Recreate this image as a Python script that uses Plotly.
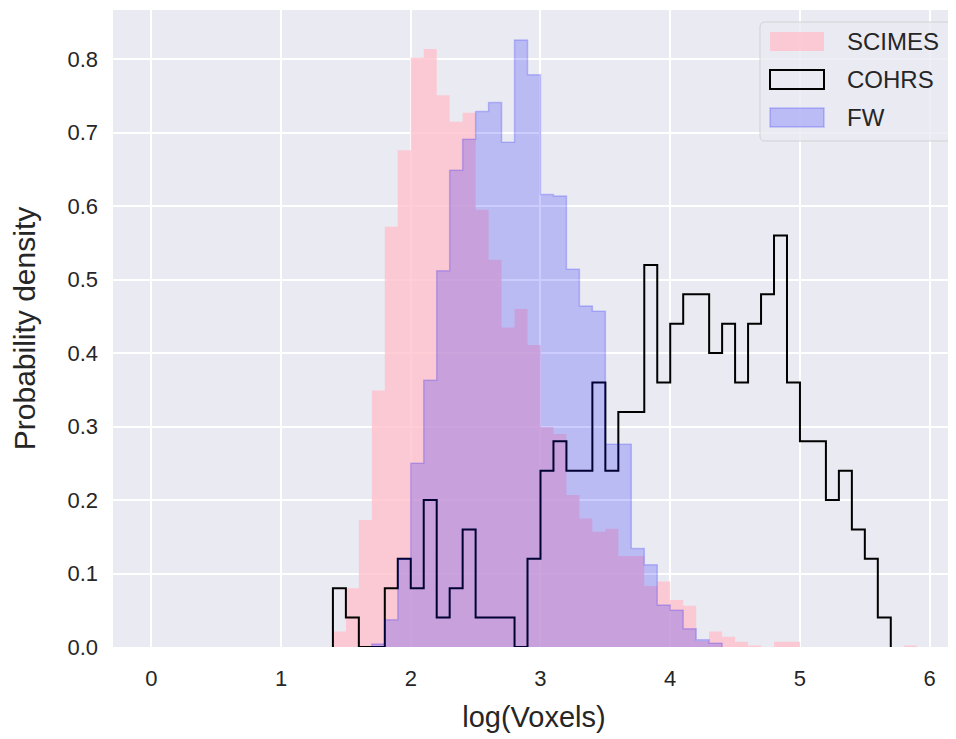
import plotly.graph_objects as go

# ---- data (density per 0.1-wide bin in log(Voxels)) ----
bin_width = 0.1

scimes_start = 1.4
scimes = [0.021, 0.080, 0.173, 0.349, 0.572, 0.676, 0.802, 0.814, 0.751, 0.715,
          0.727, 0.595, 0.527, 0.435, 0.460, 0.411, 0.299, 0.290, 0.207, 0.175,
          0.157, 0.161, 0.124, 0.124, 0.083, 0.089, 0.064, 0.056, 0.008, 0.021,
          0.014, 0.007, 0.002, 0.000, 0.007, 0.007, 0.000, 0.000, 0.000, 0.000,
          0.000, 0.000, 0.000, 0.000, 0.002]

cohrs_start = 1.4
cohrs = [0.08, 0.04, 0.00, 0.00, 0.08, 0.12, 0.08, 0.20, 0.04, 0.08,
         0.16, 0.04, 0.04, 0.04, 0.00, 0.12, 0.24, 0.28, 0.24, 0.24,
         0.36, 0.24, 0.32, 0.32, 0.52, 0.36, 0.44, 0.48, 0.48, 0.40,
         0.44, 0.36, 0.44, 0.48, 0.56, 0.36, 0.28, 0.28, 0.20, 0.24,
         0.16, 0.12, 0.04]

fw_start = 1.7
fw = [0.004, 0.037, 0.120, 0.250, 0.363, 0.512, 0.649, 0.691, 0.729, 0.741,
      0.687, 0.826, 0.779, 0.616, 0.614, 0.514, 0.464, 0.457, 0.276, 0.276,
      0.134, 0.112, 0.057, 0.050, 0.025, 0.010, 0.005]

x_ticks = [0, 1, 2, 3, 4, 5, 6]
y_ticks = [0.0, 0.1, 0.2, 0.3, 0.4, 0.5, 0.6, 0.7, 0.8]
series_names = ["SCIMES", "COHRS", "FW"]


def step_xy(values, start, width):
    edges = [round(start + i * width, 4) for i in range(len(values) + 1)]
    xs = [edges[0]] + edges[:-1] + [edges[-1]]
    ys = [0] + list(values) + [0]
    return xs, ys


TXT = "#262626"
FONT = "Liberation Sans, Arial, sans-serif"

# page body has an 8px margin: figure is placed at (8, 8)
OFF = 8
FIG_W, FIG_H = 956 - OFF, 739 - OFF
# plot area in window pixels
L, R, T, B = 113, 955, 10, 647
W, H = R - L, B - T

fig = go.Figure()

xs, ys = step_xy(scimes, scimes_start, bin_width)
fig.add_trace(go.Scatter(x=xs, y=ys, mode="lines", line_shape="hv",
                         line=dict(width=0, color="rgba(255,192,203,0)"),
                         fill="tozeroy", fillcolor="rgba(255,192,203,0.8)",
                         name=series_names[0], showlegend=False, hoverinfo="skip"))

xs, ys = step_xy(cohrs, cohrs_start, bin_width)
fig.add_trace(go.Scatter(x=xs, y=ys, mode="lines", line_shape="hv",
                         line=dict(width=2, color="black"),
                         name=series_names[1], showlegend=False, hoverinfo="skip"))

xs, ys = step_xy(fw, fw_start, bin_width)
fig.add_trace(go.Scatter(x=xs, y=ys, mode="lines", line_shape="hv",
                         line=dict(width=1.5, color="rgba(0,0,255,0.2)"),
                         fill="tozeroy", fillcolor="rgba(0,0,255,0.2)",
                         name=series_names[2], showlegend=False, hoverinfo="skip"))


# ---- legend drawn as box + patches + text (paper coords) ----
def px(xp):
    return (xp - L) / W


def py(yp):
    return (B - yp) / H


def rounded_box(x0, y0, x1, y1, r):
    rx, ry = r / W, r / H
    a0, a1, b0, b1 = px(x0), px(x1), py(y1), py(y0)
    return (f"M{a0+rx},{b0} L{a1-rx},{b0} Q{a1},{b0} {a1},{b0+ry} "
            f"L{a1},{b1-ry} Q{a1},{b1} {a1-rx},{b1} L{a0+rx},{b1} "
            f"Q{a0},{b1} {a0},{b1-ry} L{a0},{b0+ry} Q{a0},{b0} {a0+rx},{b0} Z")


fig.add_shape(type="path", xref="paper", yref="paper",
              path=rounded_box(760, 22, 953, 141, 5),
              fillcolor="rgba(234,234,242,0.8)", line=dict(color="rgba(204,204,204,0.8)", width=1))

patch_styles = [
    dict(fillcolor="rgba(255,192,203,0.8)", line=dict(width=0)),
    dict(fillcolor="rgba(0,0,0,0)", line=dict(color="black", width=2)),
    dict(fillcolor="rgba(0,0,255,0.2)", line=dict(color="rgba(0,0,255,0.2)", width=1.5)),
]
row_centers = [41.5, 79.5, 117.5]
for name, st, yc in zip(series_names, patch_styles, row_centers):
    fig.add_shape(type="rect", xref="paper", yref="paper",
                  x0=px(770), x1=px(824), y0=py(yc + 9.5), y1=py(yc - 9.5), **st)
    fig.add_annotation(x=px(845), y=py(yc), xref="paper", yref="paper",
                       text=name, showarrow=False, xanchor="left", yanchor="middle",
                       font=dict(size=24, color=TXT, family=FONT))

fig.update_layout(
    width=FIG_W, height=FIG_H,
    margin=dict(l=L - OFF, r=956 - R, t=T - OFF, b=739 - B),
    paper_bgcolor="white", plot_bgcolor="#EAEAF2",
    font=dict(family=FONT, color=TXT, size=22),
    showlegend=False,
)
fig.update_xaxes(range=[-0.295, 6.195], tickvals=x_ticks, ticktext=[str(v) for v in x_ticks],
                 showgrid=True, gridcolor="white", gridwidth=1.5, zeroline=False,
                 showline=False, ticks="", ticklabelstandoff=16,
                 tickfont=dict(size=22, color=TXT),
                 title=dict(text="log(Voxels)", font=dict(size=29, color=TXT), standoff=16))
fig.update_yaxes(range=[0, 0.867], tickvals=y_ticks, ticktext=[f"{v:.1f}" for v in y_ticks],
                 showgrid=True, gridcolor="white", gridwidth=1.5, zeroline=False,
                 showline=False, ticks="", ticklabelstandoff=14,
                 tickfont=dict(size=22, color=TXT),
                 title=dict(text="Probability density", font=dict(size=30, color=TXT), standoff=22))

fig.write_html("out.html")
